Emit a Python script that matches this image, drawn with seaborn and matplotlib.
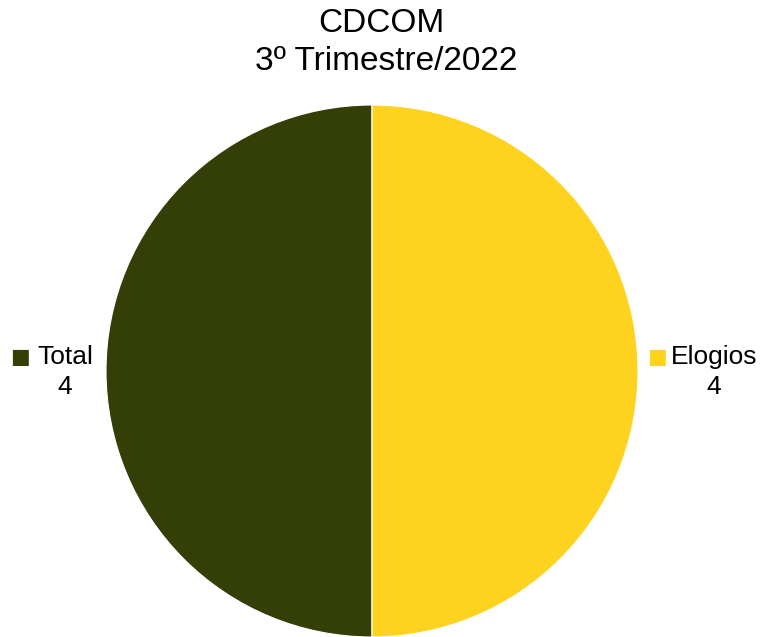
import matplotlib
matplotlib.use('Agg')
import matplotlib.pyplot as plt
import seaborn as sns

categories = ['Total', 'Elogios']
values = [4, 4]
colors = ['#333f06', '#fdd320']

sns.set_theme(style='white')
plt.rcParams['font.family'] = ['Liberation Sans', 'DejaVu Sans']

W, H = 761, 637
fig = plt.figure(figsize=(7.61, 6.37), dpi=100)
ax = fig.add_axes([106 / W, 0, 532 / W, 532 / H])
ax.pie(values, colors=colors, startangle=90, radius=1,
       wedgeprops={'edgecolor': 'white', 'linewidth': 0.8})
ax.set_xlim(-1, 1)
ax.set_ylim(-1, 1)
ax.set_aspect('equal')
ax.axis('off')

# title
fig.text(381 / W, 1 - 23 / H, 'CDCOM', ha='center', va='center', fontsize=24, color='black')
fig.text(386 / W, 1 - 61 / H, '3º Trimestre/2022', ha='center', va='center', fontsize=24, color='black')

# labels: square + name, value below
sq_x = [20, 657]
txt_x = [65, 714]
for i, cat in enumerate(categories):
    fig.text(sq_x[i] / W, 1 - 357 / H, '■', color=colors[i], fontsize=15,
             ha='center', va='center', family=['DejaVu Sans'])
    fig.text(txt_x[i] / W, 1 - 357 / H, cat, ha='center', va='center',
             fontsize=19, color='black')
    fig.text(txt_x[i] / W, 1 - 387 / H, str(values[i]), ha='center', va='center',
             fontsize=19, color='black')

fig.savefig('out.png', dpi=100)
